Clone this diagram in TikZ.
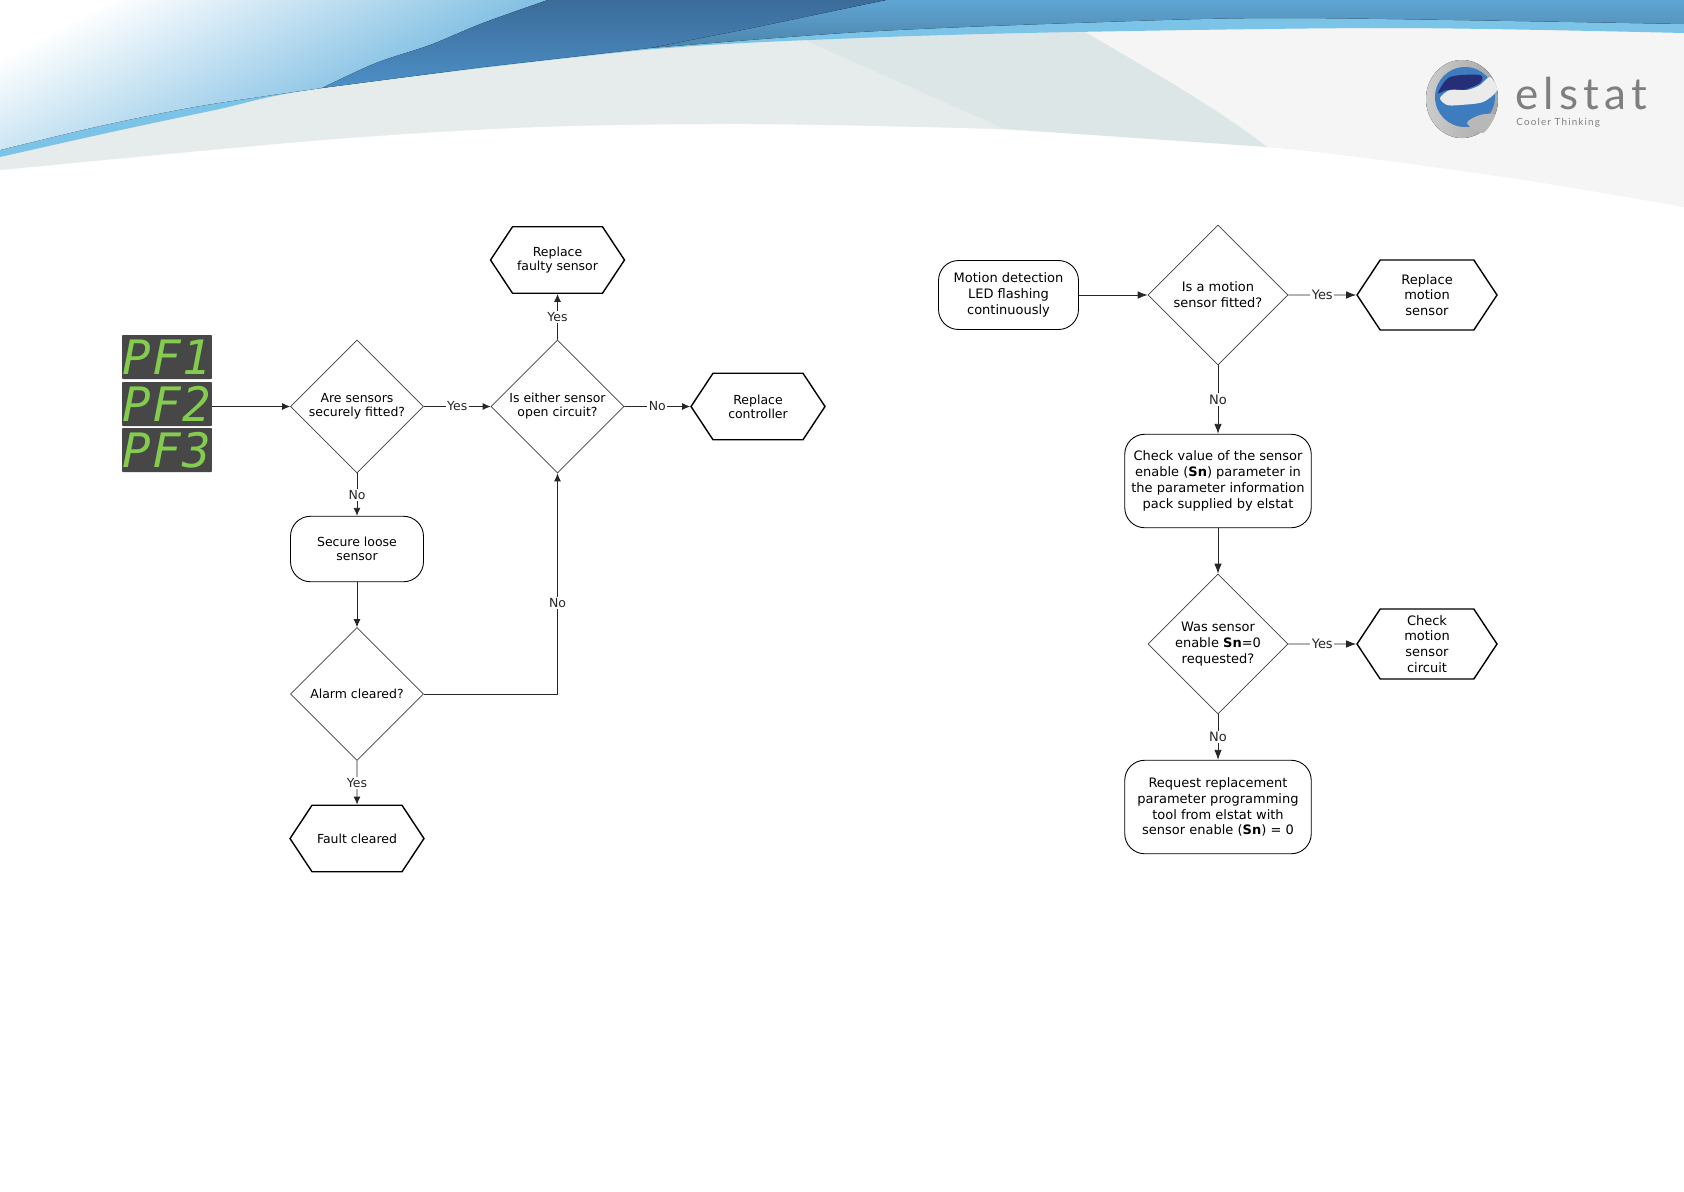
\documentclass[tikz,border=0pt]{standalone}
\usepackage{fontspec}
\usepackage{amsmath}
\setmainfont{DejaVu Sans}
\newfontfamily\pffont[LetterSpace=3]{DejaVu Sans Mono}
\newfontfamily\logofont[LetterSpace=12]{Lato}
\usetikzlibrary{arrows.meta,shapes.geometric,shapes.symbols}
\definecolor{skyblue}{HTML}{4FA6D8}
\definecolor{bandblue}{HTML}{7CC3E8}
\definecolor{topblue}{HTML}{5FA5D4}
\definecolor{deepblue}{HTML}{3B6C9A}
\definecolor{midblue}{HTML}{4D8FC6}
\definecolor{logoblue}{HTML}{3E7CC0}
\definecolor{logonavy}{HTML}{262E78}
\definecolor{logogrey}{HTML}{807F7E}
\definecolor{pfgreen}{HTML}{84CC4E}
\definecolor{wingleft}{HTML}{E6ECEC}
\definecolor{wingmid}{HTML}{DDE6E6}
\definecolor{wingright}{HTML}{F5F5F5}

\begin{document}
\begin{tikzpicture}[x=0.02cm,y=-0.02cm,
    lefttext/.style={font=\fontsize{7.1}{8}\selectfont,align=center,inner sep=0pt},
    righttext/.style={font=\fontsize{7.4}{9}\selectfont,align=center,inner sep=0pt},
    decision/.style={diamond,draw=black!75,line width=.4pt,aspect=1,minimum size=#1},
    process/.style={rectangle,rounded corners=.4cm,draw=black,line width=.5pt},
    ending/.style={signal,signal to=west and east,signal pointer angle=113,draw=black,line width=.8pt},
    flow/.style={-{Latex[length=1.6mm,width=1.4mm]},line width=.5pt,black!85},
    bigflow/.style={-{Latex[length=2mm,width=1.5mm]},line width=.5pt,black!85},
    choice/.style={fill=white,inner sep=.8pt,text=black!85},
    pfbox/.style={rectangle,fill=black!72,rounded corners=.5pt,minimum width=1.8cm,minimum height=.88cm,inner sep=0pt,
        text=pfgreen,font=\pffont\itshape\fontsize{27}{27}\selectfont}]
    \useasboundingbox (0,0) rectangle (1684,1191);
    \fill[white] (0,0) rectangle (1684,1191);
    % header
    \fill[wingright] (0,0) -- (1684,0) -- (1684,207)
        -- plot[smooth] coordinates {(1684,207) (1504,177) (1267,147) (967,128) (752,124) (537,127) (322,140) (0,170)} -- cycle;
    \fill[wingleft] (0,0) -- (1000,0) -- (1005,126)
        -- plot[smooth] coordinates {(1005,129) (752,124) (537,127) (322,140) (0,170)} -- cycle;
    \fill[wingmid] (782,30) -- (1070,20) -- (1085,32) .. controls (1150,70) and (1220,110) .. (1267,147) -- (1005,129) -- cycle;
    \fill[bandblue] (0,0) -- (1684,0) -- (1684,33)
        -- plot[smooth] coordinates {(1684,33) (1396,28) (1074,32) (859,38) (644,50) (322,88) (215,110) (107,133) (0,157)} -- cycle;
    \fill[top color=white,bottom color=skyblue,shading angle=28] (0,0) -- (548,0) -- (322,88)
        -- plot[smooth] coordinates {(322,88) (200,106) (100,126) (0,150)} -- cycle;
    \fill[top color=topblue,bottom color=topblue!80!black] (886,0) -- (1684,0) -- (1684,24)
        -- plot[smooth] coordinates {(1684,24) (1290,18) (1074,23) (860,32) (650,48)} -- cycle;
    \fill[top color=deepblue,bottom color=midblue]
        plot[smooth] coordinates {(322,88) (376,63) (430,45) (483,23) (548,0)}
        -- (886,0) -- (752,28) -- (650,48) -- (483,67) -- cycle;
    % logo
    \fill[left color=black!20,right color=black!35] (1462,99) ellipse (36 and 39);
    \fill[logoblue] (1465,97) circle (30);
    \fill[logonavy] plot[smooth cycle] coordinates {(1438,93) (1450,77) (1480,75) (1480,83) (1463,90) (1447,90)};
    \fill[black!8] plot[smooth cycle] coordinates {(1440,98) (1450,90) (1467,90) (1480,85) (1490,77) (1497,90) (1483,102) (1460,105) (1447,105)};
    \fill[black!28] plot[smooth cycle] coordinates {(1495,115) (1480,115) (1467,123) (1483,133)};
    \node[anchor=base west,inner sep=0pt,text=logogrey,font=\logofont\fontsize{25}{25}\selectfont] (logoname) at (1515,109) {elstat};
    \node[anchor=base west,inner sep=0pt,text=logogrey,font=\logofont\fontsize{5.6}{6}\selectfont] (logotag) at (1516,125) {Cooler Thinking};
    % left chart
    \node[pfbox] (pf1) at (167,357) {PF1};
    \node[pfbox] (pf2) at (167,404) {PF2};
    \node[pfbox] (pf3) at (167,450) {PF3};
    \node[decision=2.66cm,lefttext] (fitted) at (357,406.5) {Are sensors\\securely fitted?};
    \node[decision=2.66cm,lefttext] (open) at (557.5,406.5) {Is either sensor\\open circuit?};
    \node[ending,lefttext,minimum width=2.68cm,minimum height=1.33cm] (faulty) at (557.5,260) {Replace\\faulty sensor};
    \node[ending,lefttext,minimum width=2.68cm,minimum height=1.33cm] (controller) at (758,406.5) {Replace\\controller};
    \node[process,lefttext,minimum width=2.66cm,minimum height=1.31cm] (secure) at (357,549) {Secure loose\\sensor};
    \node[decision=2.66cm,lefttext] (alarm) at (357,694) {Alarm cleared?};
    \node[ending,lefttext,minimum width=2.68cm,minimum height=1.33cm] (cleared) at (357,838.5) {Fault cleared};
    \draw[flow] (pf2.east |- fitted) -- (fitted);
    \draw[flow,lefttext] (fitted) -- node[choice] {Yes} (open);
    \draw[flow,lefttext] (open) -- node[choice] {Yes} (faulty);
    \draw[flow,lefttext] (open) -- node[choice] {No} (controller);
    \draw[flow,lefttext] (fitted) -- node[choice] {No} (secure);
    \draw[flow] (secure) -- (alarm);
    \draw[flow,lefttext] (alarm) -- node[choice] {Yes} (cleared);
    \draw[flow,lefttext] (alarm) -| node[choice,pos=.707] {No} (open);
    % right chart
    \node[process,righttext,minimum width=2.8cm,minimum height=1.38cm] (motion) at (1008.5,295) {Motion detection\\LED flashing\\continuously};
    \node[decision=2.8cm,righttext] (isfitted) at (1218,295) {Is a motion\\sensor fitted?};
    \node[ending,righttext,minimum width=2.8cm,minimum height=1.4cm] (newsensor) at (1427,295) {Replace\\motion\\sensor};
    \node[process,righttext,minimum width=3.73cm,minimum height=1.87cm] (checkvalue) at (1218,481) {Check value of the sensor\\enable (\textbf{Sn}) parameter in\\the parameter information\\pack supplied by elstat};
    \node[decision=2.8cm,righttext] (requested) at (1218,644) {Was sensor\\enable \textbf{Sn}=0\\requested?};
    \node[ending,righttext,minimum width=2.8cm,minimum height=1.4cm] (circuit) at (1427,644) {Check\\motion\\sensor\\circuit};
    \node[process,righttext,minimum width=3.73cm,minimum height=1.87cm] (tool) at (1218,807) {Request replacement\\parameter programming\\tool from elstat with\\sensor enable (\textbf{Sn}) = 0};
    \draw[bigflow] (motion) -- (isfitted);
    \draw[bigflow,righttext] (isfitted) -- node[choice] {Yes} (newsensor);
    \draw[bigflow,righttext] (isfitted) -- node[choice] {No} (checkvalue);
    \draw[bigflow] (checkvalue) -- (requested);
    \draw[bigflow,righttext] (requested) -- node[choice] {Yes} (circuit);
    \draw[bigflow,righttext] (requested) -- node[choice] {No} (tool);
\end{tikzpicture}
\end{document}
